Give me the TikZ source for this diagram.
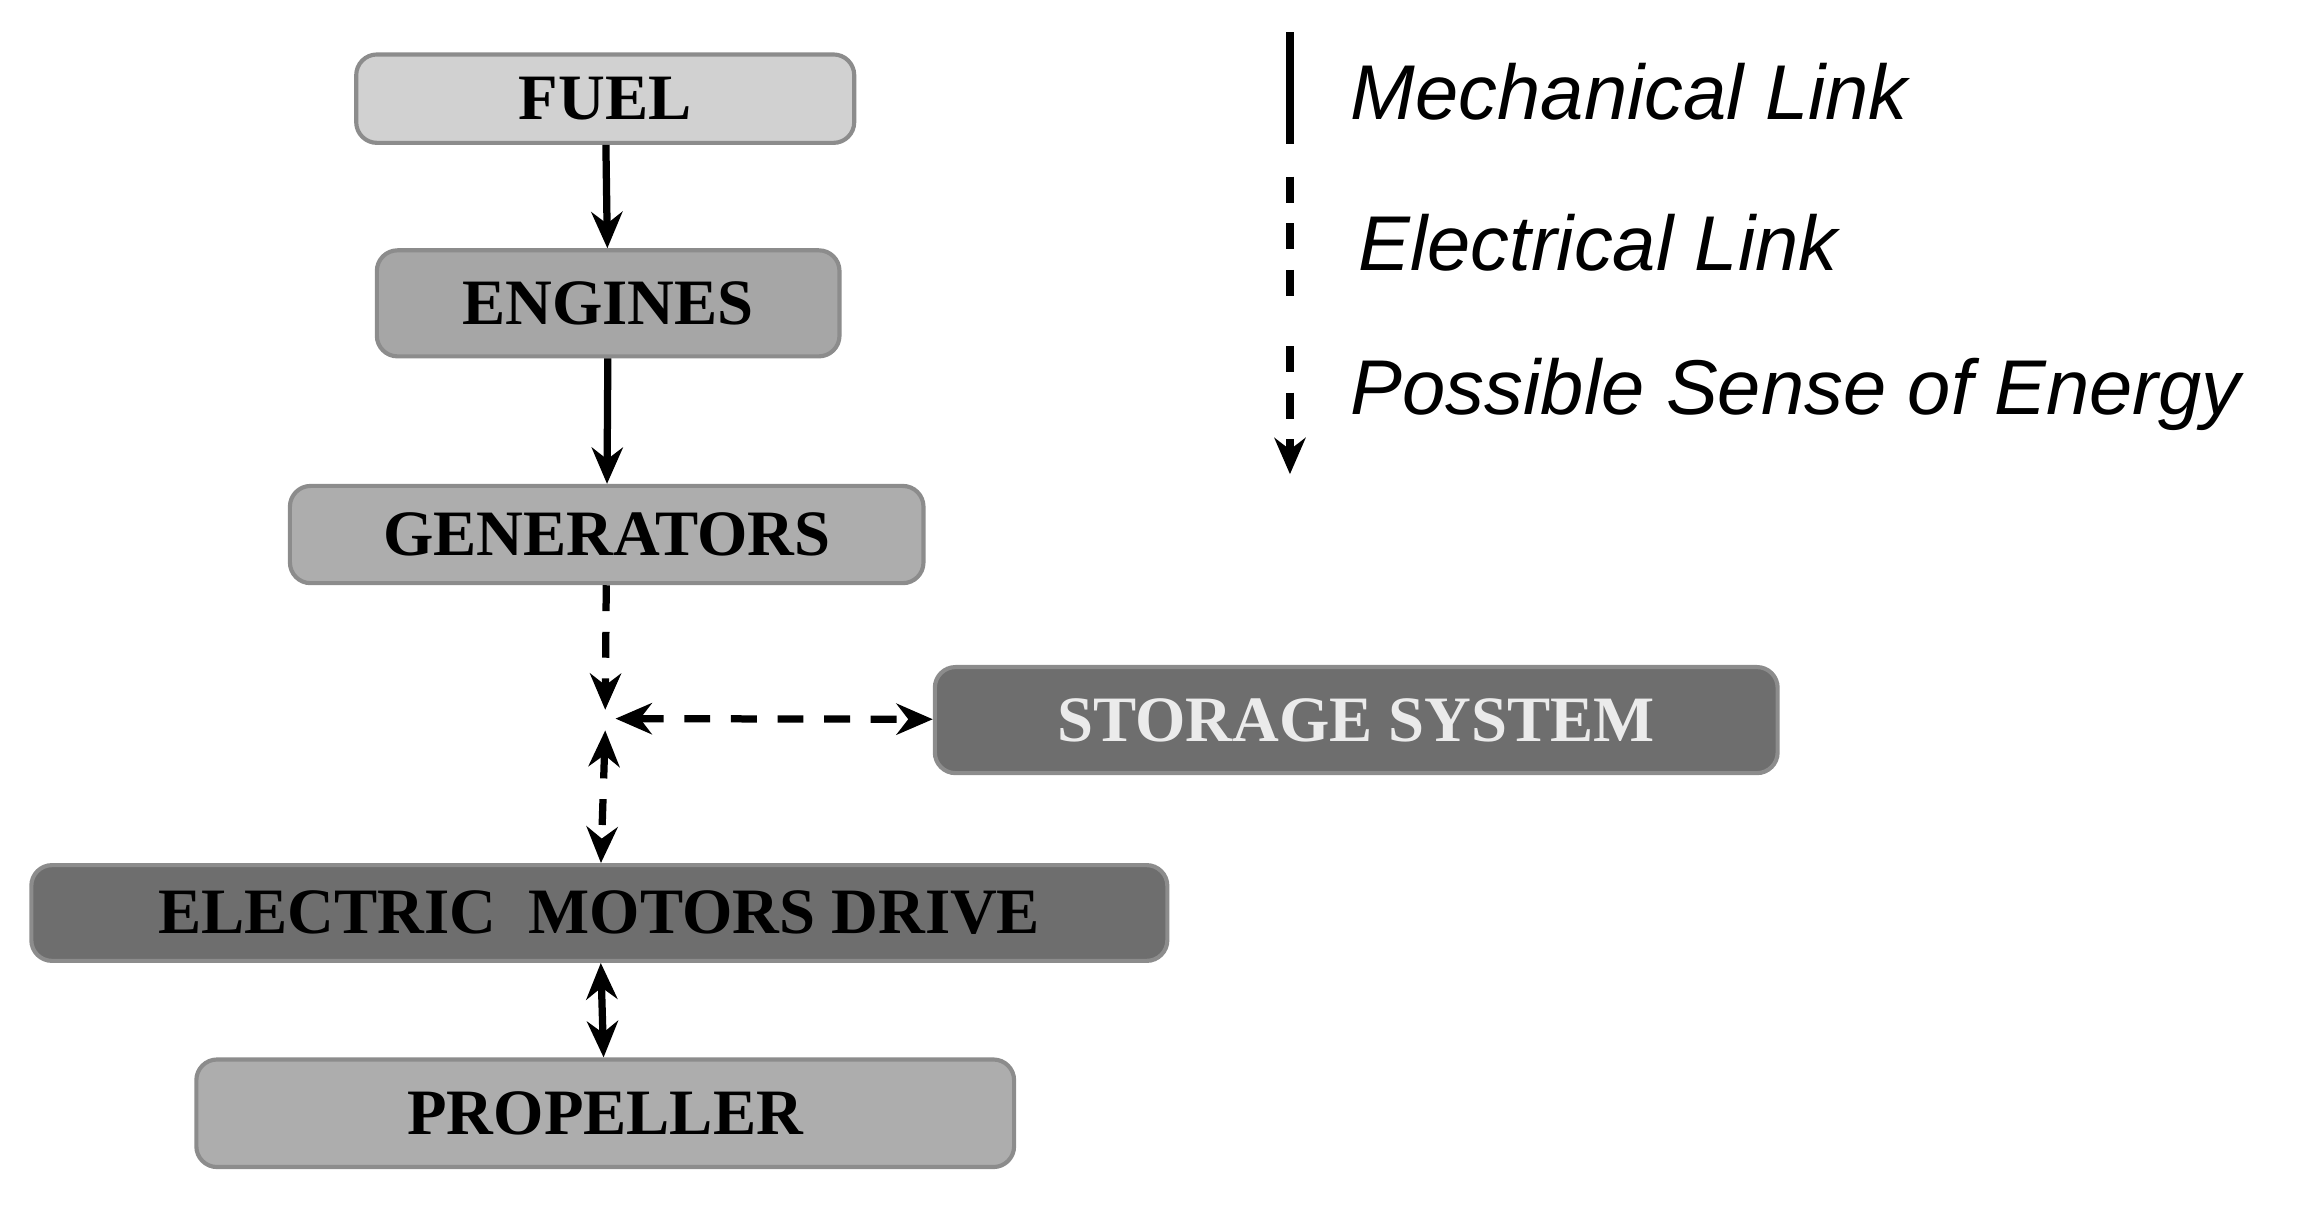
\documentclass[tikz,border=0pt]{standalone}
\usepackage{fontspec}
\setmainfont{Liberation Serif}
\newfontfamily\legfont{Liberation Sans}
\usetikzlibrary{arrows.meta}
\begin{document}
\begin{tikzpicture}[x=0.01cm,y=-0.01cm,
 box/.style={draw=black!45,line width=0.8pt,rounded corners=4pt,inner sep=0pt,font=\fontsize{12.5}{14}\selectfont\bfseries},
 lnk/.style={line width=1.4pt,-{Stealth[length=7pt,width=6pt]}},
 dlnk/.style={lnk,dash pattern=on 5pt off 4pt},
 leg/.style={anchor=west,font=\legfont\itshape\fontsize{15}{18}\selectfont}]
\useasboundingbox (0,0) rectangle (1568,830);
\node[box,fill=black!18,minimum width=3.38cm,minimum height=0.60cm] (fuel) at (411,67) {FUEL};
\node[box,fill=black!35,minimum width=3.14cm,minimum height=0.72cm] (eng) at (413,206) {ENGINES};
\node[box,fill=black!32,minimum width=4.30cm,minimum height=0.66cm] (gen) at (412,363) {GENERATORS};
\node[box,fill=black!57,text=black!8,minimum width=5.72cm,minimum height=0.72cm] (sto) at (921,489) {STORAGE SYSTEM};
\node[box,fill=black!57,minimum width=7.71cm,minimum height=0.65cm] (emd) at (407,620) {ELECTRIC\ \ MOTORS DRIVE};
\node[box,fill=black!32,minimum width=5.55cm,minimum height=0.73cm] (prop) at (411,756) {PROPELLER};
\coordinate (j) at (411,488);
\coordinate (ja) at (411,482);
\coordinate (jb) at (411,496);
\coordinate (jc) at (418,488);
\draw[lnk] (fuel) -- (eng);
\draw[lnk] (eng) -- (gen);
\draw[dlnk] (gen) -- (ja);
\draw[dlnk,{Stealth[length=7pt,width=6pt]}-{Stealth[length=7pt,width=6pt]}] (jc) -- (sto);
\draw[dlnk,{Stealth[length=7pt,width=6pt]}-{Stealth[length=7pt,width=6pt]}] (jb) -- (emd);
\draw[lnk,{Stealth[length=7pt,width=6pt]}-{Stealth[length=7pt,width=6pt]}] (emd) -- (prop);
\coordinate (l1a) at (876,22); \coordinate (l1b) at (876,98);
\coordinate (l2a) at (876,120); \coordinate (l2b) at (876,205);
\coordinate (l3a) at (876,235); \coordinate (l3b) at (876,322);
\draw[line width=1.4pt] (l1a) -- (l1b);
\draw[line width=1.4pt,dash pattern=on 5pt off 4pt] (l2a) -- (l2b);
\draw[dlnk] (l3a) -- (l3b);
\node[leg] (t1) at (905,62) {Mechanical Link};
\node[leg] (t2) at (910,165) {Electrical Link};
\node[leg] (t3) at (905,268) {Possible Sense of Energy};
\end{tikzpicture}
\end{document}
